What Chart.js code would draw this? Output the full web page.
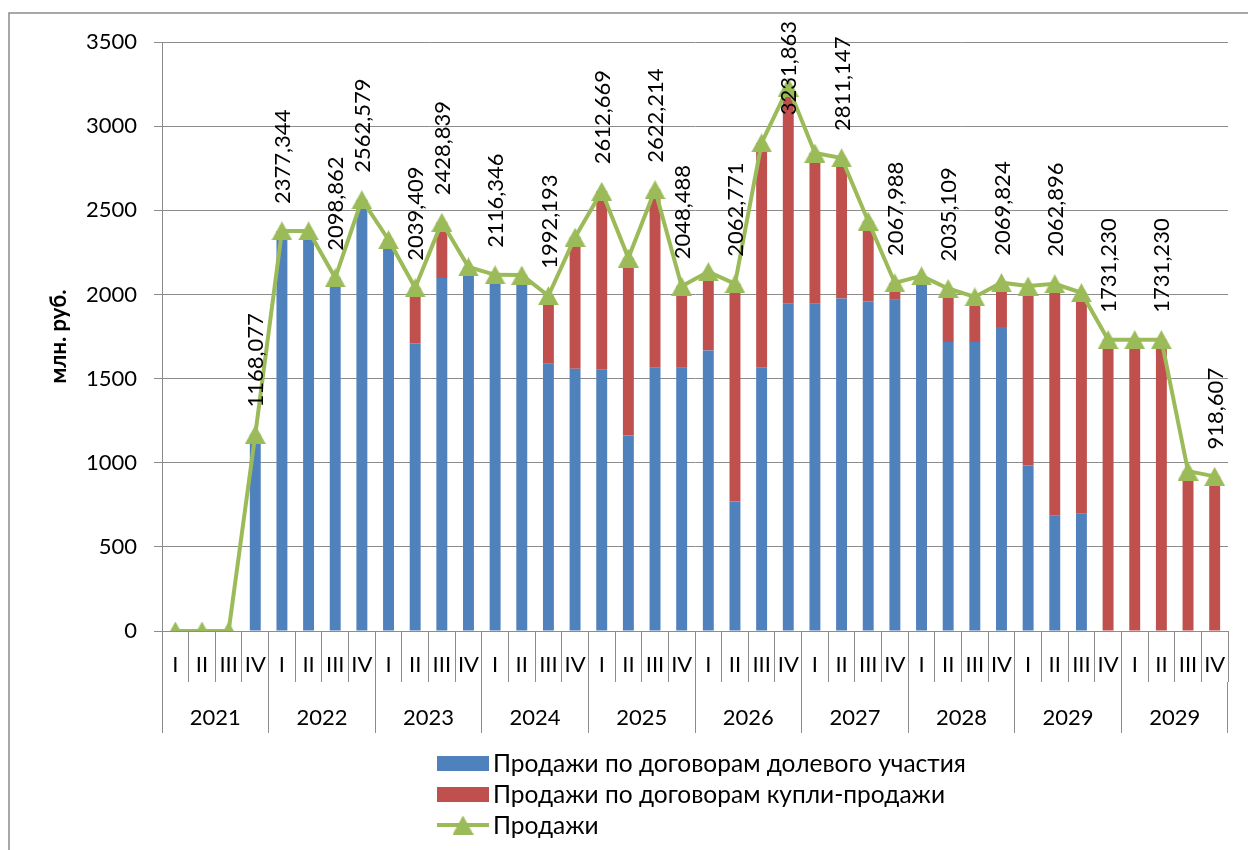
<!DOCTYPE html>
<html>
<head>
<meta charset="utf-8">
<script src="https://cdn.jsdelivr.net/npm/chart.js@4"></script>
<style>
  html, body { margin: 0; padding: 0; background: #fff; }
  #wrap { width: 1248px; height: 850px; position: relative; }
</style>
</head>
<body>
<div id="wrap"><canvas id="chart" width="1248" height="850"></canvas></div>
<script>
// Quarterly sales, mln. rub.
const yearLabels = ['2021', '2022', '2023', '2024', '2025', '2026', '2027', '2028', '2029', '2029'];
const quarterNames = ['I', 'II', 'III', 'IV'];
const quarterLabels = yearLabels.flatMap(() => quarterNames);

// Sales under shared-construction contracts
const equityValues = [
  0, 0, 0, 1168.077,
  2377.344, 2377, 2098.862, 2562.579,
  2325, 1710, 2097, 2163,
  2116.346, 2115, 1588, 1558,
  1552, 1162, 1564, 1564,
  1667, 770, 1564, 1945,
  1945, 1976, 1960, 1968,
  2110, 1717, 1717, 1806,
  984, 685, 697, 0,
  0, 0, 0, 0
];

// Sales under purchase-and-sale contracts
const purchaseValues = [
  0, 0, 0, 0,
  0, 0, 0, 0,
  0, 329.409, 331.839, 0,
  0, 0, 404.193, 782,
  1060.669, 1054, 1058.214, 484.488,
  468, 1292.771, 1336, 1286.863,
  895, 835.147, 475, 99.988,
  0, 318.109, 268, 263.824,
  1066, 1377.896, 1313, 1731.23,
  1731.23, 1731.23, 950, 918.607
];

// Total sales
const totalValues = [
  0, 0, 0, 1168.077,
  2377.344, 2377, 2098.862, 2562.579,
  2325, 2039.409, 2428.839, 2163,
  2116.346, 2115, 1992.193, 2340,
  2612.669, 2216, 2622.214, 2048.488,
  2135, 2062.771, 2900, 3231.863,
  2840, 2811.147, 2435, 2067.988,
  2110, 2035.109, 1985, 2069.824,
  2050, 2062.896, 2010, 1731.23,
  1731.23, 1731.23, 950, 918.607
];

// Points of the total line that carry a value label
const labelledPoints = [3, 4, 6, 7, 9, 10, 12, 14, 16, 18, 19, 21, 23, 25, 27, 29, 31, 33, 35, 37, 39];

const BLUE = '#4F81BD';
const RED = '#C0504D';
const GREEN = '#9BBB59';
const GRID = '#8c8c8c';
const FONT = "Lato, 'Open Sans', 'Noto Sans', sans-serif";

// Triangle marker, centred on its bounding box
function makeTriangle(w, h, color) {
  const c = document.createElement('canvas');
  c.width = w; c.height = h;
  const g = c.getContext('2d');
  g.fillStyle = color;
  g.beginPath();
  g.moveTo(w / 2, 0);
  g.lineTo(w, h);
  g.lineTo(0, h);
  g.closePath();
  g.fill();
  return c;
}
const triangle = makeTriangle(21, 19, GREEN);

const fmt = v => v.toFixed(3).replace('.', ',');

// Outer frame of the chart
const framePlugin = {
  id: 'frame',
  beforeDraw(chart) {
    const ctx = chart.ctx;
    ctx.save();
    ctx.fillStyle = '#fff';
    ctx.fillRect(0, 0, chart.width, chart.height);
    ctx.strokeStyle = '#8c8c8c';
    ctx.lineWidth = 1.5;
    ctx.strokeRect(9, 13, chart.width + 20, chart.height + 20);
    ctx.restore();
  }
};

// Rotated value labels above the total line
const valueLabelPlugin = {
  id: 'valueLabels',
  afterDatasetsDraw(chart) {
    const ctx = chart.ctx;
    const meta = chart.getDatasetMeta(2);
    const values = chart.data.datasets[2].data;
    ctx.save();
    ctx.font = '22px ' + FONT;
    ctx.fillStyle = '#000';
    ctx.textAlign = 'left';
    ctx.textBaseline = 'middle';
    labelledPoints.forEach(i => {
      const pt = meta.data[i];
      const text = fmt(values[i]);
      const w = ctx.measureText(text).width;
      let start = pt.y - 27;
      if (start - w < 21) start = 21 + w;
      ctx.save();
      ctx.translate(pt.x + 1, start);
      ctx.rotate(-Math.PI / 2);
      ctx.fillText(text, 0, 0);
      ctx.restore();
    });
    ctx.restore();
  }
};

// Vertical legend below the axis
const legendPlugin = {
  id: 'stackedLegend',
  afterDraw(chart) {
    const ctx = chart.ctx;
    const left = 437, boxW = 52, textX = 493;
    const rows = [763, 794, 825];
    ctx.save();
    ctx.font = '24.5px ' + FONT;
    ctx.textBaseline = 'middle';
    ctx.textAlign = 'left';
    chart.data.datasets.forEach((ds, k) => {
      const y = rows[k];
      if (ds.type === 'line') {
        ctx.strokeStyle = ds.borderColor;
        ctx.lineWidth = 4;
        ctx.beginPath();
        ctx.moveTo(left, y);
        ctx.lineTo(left + boxW, y);
        ctx.stroke();
        ctx.drawImage(triangle, left + boxW / 2 - triangle.width / 2, y - triangle.height / 2);
      } else {
        ctx.fillStyle = ds.backgroundColor;
        ctx.fillRect(left, y - 7, boxW, 15);
      }
      ctx.fillStyle = '#000';
      ctx.fillText(ds.label, textX, y + 1);
    });
    ctx.restore();
  }
};

Chart.defaults.color = '#000';
Chart.defaults.font.family = FONT;

new Chart(document.getElementById('chart'), {
  data: {
    labels: quarterLabels,
    datasets: [
      {
        type: 'bar',
        label: 'Продажи по договорам долевого участия',
        data: equityValues,
        backgroundColor: BLUE,
        stack: 'sales',
        order: 1,
        categoryPercentage: 1,
        barPercentage: 0.41
      },
      {
        type: 'bar',
        label: 'Продажи по договорам купли-продажи',
        data: purchaseValues,
        backgroundColor: RED,
        stack: 'sales',
        order: 1,
        categoryPercentage: 1,
        barPercentage: 0.41
      },
      {
        type: 'line',
        label: 'Продажи',
        data: totalValues,
        borderColor: GREEN,
        backgroundColor: GREEN,
        borderWidth: 4,
        pointStyle: triangle,
        pointRadius: 10,
        stack: 'total',
        order: 0,
        tension: 0
      }
    ]
  },
  options: {
    responsive: false,
    animation: false,
    events: [],
    layout: { padding: { top: 42, right: 20, bottom: 117, left: 0 } },
    plugins: {
      legend: { display: false },
      tooltip: { enabled: false }
    },
    scales: {
      y: {
        min: 0,
        max: 3500,
        stacked: true,
        ticks: { stepSize: 500, padding: 17, font: { size: 22 }, callback: v => String(v) },
        grid: { color: GRID, lineWidth: 1, tickLength: 8 },
        border: { color: GRID, width: 1 },
        title: {
          display: true,
          text: 'млн. руб.',
          font: { size: 22, weight: 'bold' },
          padding: { top: 46, bottom: 0 }
        },
        afterFit(scale) { scale.width = 162; }
      },
      x: {
        stacked: true,
        weight: 0,
        offset: true,
        ticks: { autoSkip: false, maxRotation: 0, minRotation: 0, padding: -30, font: { size: 22 } },
        grid: { drawOnChartArea: false, offset: true, tickLength: 51, color: GRID, lineWidth: 1 },
        border: { color: GRID, width: 1 },
        afterFit(scale) { scale.height = 51; }
      },
      x2: {
        type: 'category',
        position: 'bottom',
        labels: yearLabels,
        weight: 1,
        offset: true,
        ticks: { autoSkip: false, maxRotation: 0, minRotation: 0, padding: -28, font: { size: 22 } },
        grid: { drawOnChartArea: false, offset: true, tickLength: 51, color: GRID, lineWidth: 1 },
        border: { display: false },
        afterFit(scale) { scale.height = 51; }
      }
    }
  },
  plugins: [framePlugin, valueLabelPlugin, legendPlugin]
});
</script>
</body>
</html>
